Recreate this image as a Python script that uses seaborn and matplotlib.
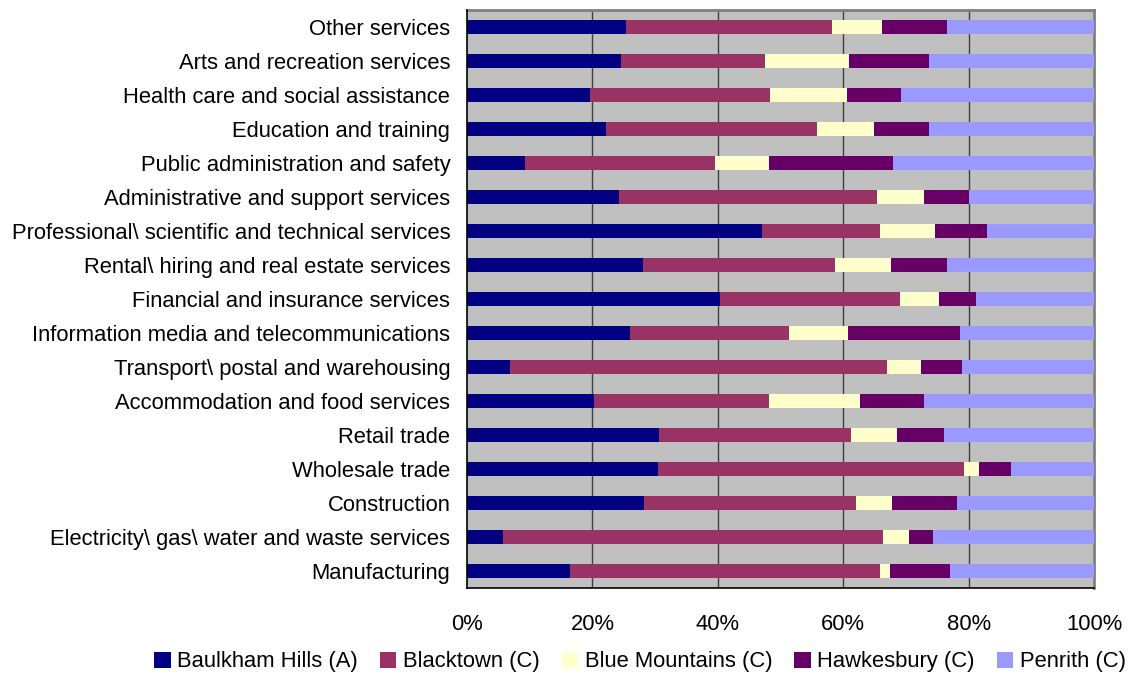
import numpy as np
import pandas as pd
import matplotlib
matplotlib.use("Agg")
import matplotlib.pyplot as plt
import seaborn as sns
from matplotlib.patches import Patch

categories = [
    "Other services",
    "Arts and recreation services",
    "Health care and social assistance",
    "Education and training",
    "Public administration and safety",
    "Administrative and support services",
    "Professional\\ scientific and technical services",
    "Rental\\ hiring and real estate services",
    "Financial and insurance services",
    "Information media and telecommunications",
    "Transport\\ postal and warehousing",
    "Accommodation and food services",
    "Retail trade",
    "Wholesale trade",
    "Construction",
    "Electricity\\ gas\\ water and waste services",
    "Manufacturing",
]

series_names = ["Baulkham Hills (A)", "Blacktown (C)", "Blue Mountains (C)",
                "Hawkesbury (C)", "Penrith (C)"]

baulkham = [25.4, 24.6, 19.6, 22.2, 9.2, 24.2, 47.1, 28.1, 40.3, 26.0, 6.9, 20.3, 30.7, 30.5, 28.2, 5.7, 16.4]
blacktown = [32.8, 22.9, 28.8, 33.6, 30.4, 41.2, 18.7, 30.6, 28.7, 25.3, 60.1, 27.9, 30.5, 48.7, 33.8, 60.6, 49.4]
blue_mountains = [8.0, 13.5, 12.2, 9.1, 8.5, 7.5, 8.9, 8.9, 6.2, 9.5, 5.4, 14.5, 7.4, 2.4, 5.8, 4.2, 1.7]
hawkesbury = [10.3, 12.7, 8.6, 8.8, 19.9, 7.2, 8.2, 8.9, 6.0, 17.8, 6.6, 10.2, 7.5, 5.1, 10.4, 3.9, 9.6]
penrith = [23.5, 26.3, 30.8, 26.3, 32.0, 19.9, 17.1, 23.5, 18.8, 21.4, 21.0, 27.1, 23.9, 13.3, 21.8, 25.6, 22.9]

colors = ["#000080", "#993366", "#FFFFCC", "#660066", "#9999FF"]

df = pd.DataFrame({
    "category": categories,
    series_names[0]: baulkham,
    series_names[1]: blacktown,
    series_names[2]: blue_mountains,
    series_names[3]: hawkesbury,
    series_names[4]: penrith,
})
vals = df[series_names]
shares = vals.div(vals.sum(axis=1), axis=0) * 100
cum = shares.cumsum(axis=1)

sns.set_style("white")
plt.rcParams["font.family"] = ["Liberation Sans", "DejaVu Sans"]
plt.rcParams["text.color"] = "black"
plt.rcParams["xtick.color"] = "black"
plt.rcParams["ytick.color"] = "black"

FS = 15.8

fig = plt.figure(figsize=(11.3, 6.75), dpi=100)
ax = fig.add_axes([467 / 1130, 1 - 588 / 675, (1094 - 467) / 1130, (588 - 10) / 675])
ax.set_facecolor("#C0C0C0")

for i in range(len(series_names) - 1, -1, -1):
    sns.barplot(x=cum[series_names[i]].values, y=df["category"], orient="h",
                color=colors[i], width=0.43, saturation=1, ax=ax, zorder=3,
                edgecolor="none", linewidth=0)

ax.set_xlim(0, 100)
ax.set_ylim(len(categories) - 0.5, -0.5)
ax.set_xticks([0, 20, 40, 60, 80, 100])
ax.set_xticklabels(["0%", "20%", "40%", "60%", "80%", "100%"])
ax.set_xlabel("")
ax.set_ylabel("")

for xv in [20, 40, 60, 80]:
    ax.axvline(xv, color="#404040", lw=1.0, zorder=1)

ax.set_yticks(np.arange(len(categories)))
ax.set_yticklabels(categories)
ax.set_yticks(np.arange(len(categories) + 1) - 0.5, minor=True)
ax.tick_params(axis="y", which="major", length=0, pad=12, labelsize=FS, labelcolor="black")
ax.tick_params(axis="y", which="minor", length=5, width=1, color="black", direction="out")
ax.tick_params(axis="x", which="major", length=6, width=1, color="black", direction="out",
               pad=13, labelsize=FS, labelcolor="black")

for s in ["left", "bottom"]:
    ax.spines[s].set_color("black")
    ax.spines[s].set_linewidth(1.2)
    ax.spines[s].set_visible(True)
for s in ["top", "right"]:
    ax.spines[s].set_color("#808080")
    ax.spines[s].set_linewidth(2)
    ax.spines[s].set_visible(True)
ax.spines["left"].set_zorder(5)

handles = [Patch(facecolor=c, edgecolor="none") for c in colors]
fig.legend(handles, series_names, loc="center", bbox_to_anchor=(640 / 1130, 1 - 662 / 675),
           ncol=5, frameon=False, fontsize=FS, handlelength=0.75, handleheight=0.75,
           handletextpad=0.3, columnspacing=1.0, borderpad=0)

fig.savefig("out.png", dpi=100)
